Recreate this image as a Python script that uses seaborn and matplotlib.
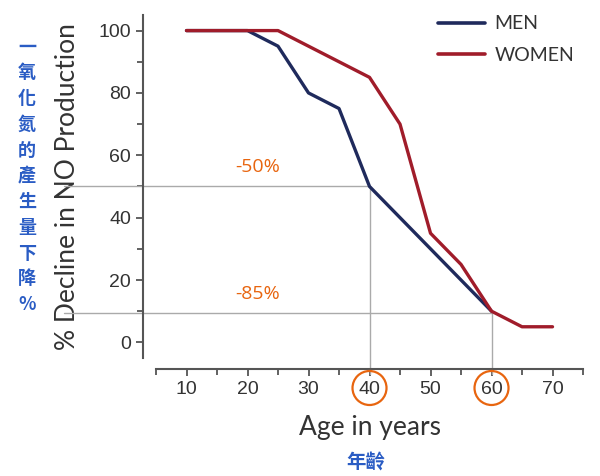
import matplotlib
matplotlib.use("Agg")
import matplotlib.pyplot as plt
import seaborn as sns
import pandas as pd
from matplotlib.patches import Ellipse
from matplotlib.lines import Line2D

men_age = [10, 20, 25, 30, 35, 40, 60]
men_val = [100, 100, 95, 80, 75, 50, 10]
women_age = [10, 25, 40, 45, 50, 55, 60, 65, 70]
women_val = [100, 100, 85, 70, 35, 25, 10, 5, 5]
series_names = ["MEN", "WOMEN"]
colors = ["#1f2a5c", "#a01c2a"]
x_ticks = [10, 20, 30, 40, 50, 60, 70]
y_ticks = [0, 20, 40, 60, 80, 100]
ref_points = [(40, 50, "-50%"), (60, 9.5, "-85%")]
circled_ticks = [40, 60]

df = pd.DataFrame({
    "age": men_age + women_age,
    "val": men_val + women_val,
    "sex": [series_names[0]] * len(men_age) + [series_names[1]] * len(women_age),
})

sns.set_theme(style="ticks")
plt.rcParams['font.family'] = ['Liberation Sans', 'DejaVu Sans']

fig = plt.figure(figsize=(6, 4.76), dpi=100)
ax = fig.add_axes([0.26, 0.248, 0.7117, 0.7205])

sns.lineplot(data=df, x="age", y="val", hue="sex", palette=colors, lw=2.4,
             ax=ax, legend=False, sort=False)

ax.set_xlim(5, 75)
ax.set_ylim(-5, 105)

# reference lines
for xv, yv, lab in ref_points:
    ax.plot([-10, xv], [yv, yv], color="#aaaaaa", lw=1.0, zorder=1, clip_on=False)
    ax.plot([xv, xv], [yv, -10], color="#aaaaaa", lw=1.0, zorder=1, clip_on=False)
    ax.text(21.7, yv + 3.2, lab, color="#e8650f", fontsize=14, ha="center",
            va="bottom", family=["Open Sans", "DejaVu Sans"])

ax.set_xticks(x_ticks)
ax.set_xticks([5, 15, 25, 35, 45, 55, 65, 75], minor=True)
ax.set_yticks(y_ticks)
ax.set_yticks([10, 30, 50, 70, 90], minor=True)
ax.tick_params(axis="both", which="both", colors="#555555", labelcolor="#333333",
               labelsize=14, width=1.3)
ax.tick_params(axis="both", which="major", length=5)
ax.tick_params(axis="both", which="minor", length=4)

for s in ["top", "right"]:
    ax.spines[s].set_visible(False)
ax.spines["left"].set_position(("outward", 9.4))
ax.spines["bottom"].set_position(("outward", 8.0))
for s in ["left", "bottom"]:
    ax.spines[s].set_color("#555555")
    ax.spines[s].set_linewidth(1.5)

ax.set_xlabel("Age in years", fontsize=19, color="#333333",
              family=["Lato", "DejaVu Sans"], labelpad=12)
ax.set_ylabel("% Decline in NO Production", fontsize=19, color="#333333",
              family=["Lato", "DejaVu Sans"], labelpad=13)

# circles around ticks
for xv in circled_ticks:
    px = ax.transData.transform((xv, 0))[0]
    fx = px / fig.bbox.width
    fig.patches.append(Ellipse((fx, 1 - 388 / 476), 34 / 600, 34 / 476,
                               transform=fig.transFigure, fill=False,
                               edgecolor="#e8650f", lw=1.6))

# legend
handles = [Line2D([0], [0], color=c, lw=2.6) for c in colors]
leg = ax.legend(handles, series_names, loc="upper right", frameon=False,
                bbox_to_anchor=(1.02, 1.05), handlelength=2.4, handletextpad=0.5,
                labelspacing=0.75,
                prop={"family": ["Lato", "DejaVu Sans"], "size": 14})
for t in leg.get_texts():
    t.set_color("#333333")

cjk = ["Noto Sans CJK TC", "DejaVu Sans"]
fig.text(366 / 600, 1 - 463 / 476, "年齡", color="#2a5cc4", fontsize=14,
         ha="center", va="center", family=cjk, fontweight="bold")
vert = "一氧化氮的產生量下降%"
fig.text(27 / 600, 1 - 176 / 476, "\n".join(vert), color="#2a5cc4", fontsize=13,
         ha="center", va="center", family=cjk, linespacing=1.45, fontweight="bold")

fig.savefig("out.png", dpi=100)
